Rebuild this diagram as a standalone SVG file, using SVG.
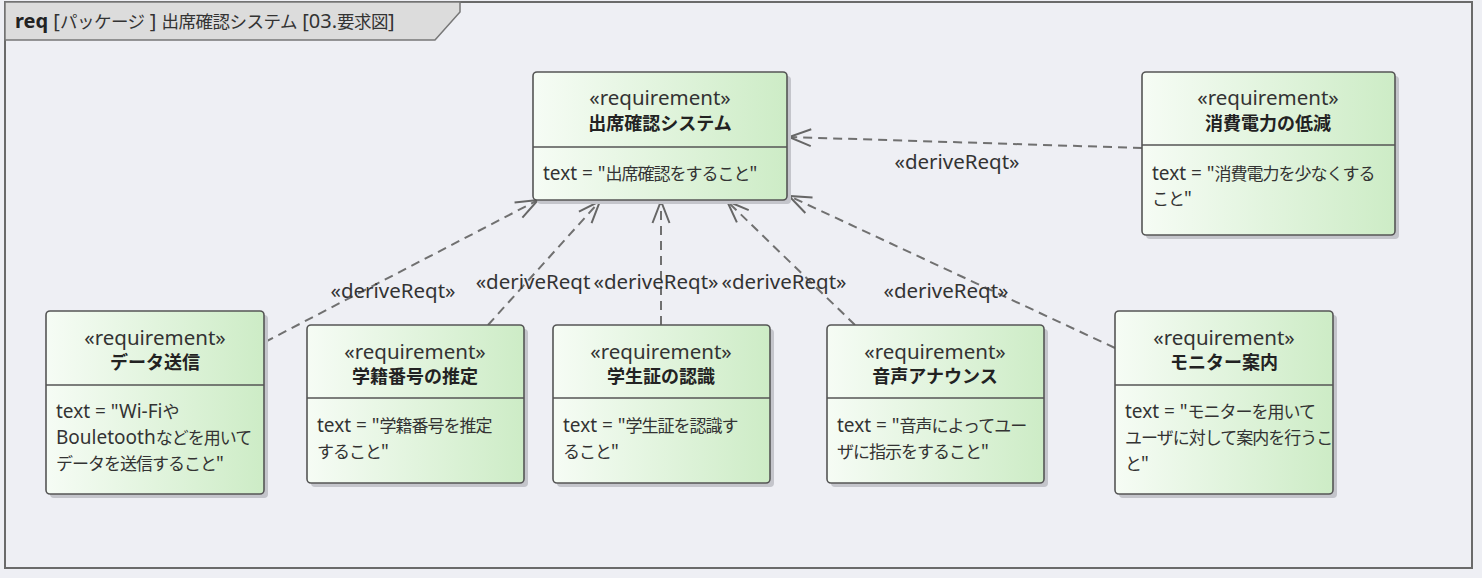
<svg xmlns="http://www.w3.org/2000/svg" width="1482" height="578" viewBox="0 0 1482 578">
<style>
text{font-family:"Noto Sans","Noto Sans CJK JP",sans-serif;fill:#333;font-size:20.5px;}
.t{font-size:19px;}
.j{font-size:17px;letter-spacing:-1px;}
.hj{font-size:17.5px;letter-spacing:-0.5px;}
.st{text-anchor:middle;}
.nm{font-size:18px;font-weight:bold;text-anchor:middle;fill:#222;}
.lb{text-anchor:middle;}
.box{fill:url(#g);stroke:#555;stroke-width:1.6;}
.sh{fill:#c4c5cb;}
.dv{stroke:#555;stroke-width:1.6;}
.cn{fill:none;stroke:#707070;stroke-width:2;stroke-dasharray:9,6;marker-end:url(#open);}
</style>
<defs>
<linearGradient id="g" x1="0" y1="0" x2="1" y2="0">
<stop offset="0" stop-color="#f6fcf5"/>
<stop offset="1" stop-color="#cdecc6"/>
</linearGradient>
<marker id="open" markerWidth="26" markerHeight="22" viewBox="-24 -11 26 22" refX="0" refY="0" orient="auto" markerUnits="userSpaceOnUse">
<path d="M-22,-8.5 L0,0 L-22,8.5" fill="none" stroke="#666" stroke-width="2"/>
</marker>
</defs>
<rect x="0" y="0" width="1482" height="578" fill="#eeeff4"/>
<g id="frame">
<rect x="5" y="2" width="1467" height="566" fill="#eeeff4" stroke="#6a6a6a" stroke-width="2"/>
<path d="M5,2 L460,2 L460,12 L435,40 L5,40 Z" fill="#dcdcdc" stroke="#777" stroke-width="1.5"/>
<text x="15" y="28" style="font-size:20px"><tspan font-weight="bold" fill="#222">req</tspan> [<tspan class="hj">パッケージ</tspan> ] <tspan class="hj">出席確認システム</tspan> [03.<tspan class="hj">要求図</tspan>]</text>
</g>
<g id="connectors">
<path class="cn" d="M265,342 L538,200"/>
<path class="cn" d="M488,325 L600,201"/>
<path class="cn" d="M661,325 L661,201"/>
<path class="cn" d="M855,325 L727,201"/>
<path class="cn" d="M1115,348 L789,196"/>
<path class="cn" d="M1142,148 L789,137"/>
<text class="lb" x="393" y="298">«deriveReqt»</text>
<text class="lb" x="533" y="289">«deriveReqt</text>
<text class="lb" x="656" y="289">«deriveReqt»</text>
<text class="lb" x="784" y="289">«deriveReqt»</text>
<text class="lb" x="946" y="298">«deriveReqt»</text>
<text class="lb" x="957" y="169">«deriveReqt»</text>
</g>
<g id="n-main">
<rect class="sh" x="537" y="76" width="254" height="128" rx="4"/>
<rect class="box" x="533" y="72" width="254" height="128" rx="4"/>
<line class="dv" x1="533" y1="147" x2="787" y2="147"/>
<text class="st" x="660" y="105">«requirement»</text>
<text class="nm" x="660" y="130">出席確認システム</text>
<text class="t" x="543" y="180">text = "<tspan class="j">出席確認をすること</tspan>"</text>
</g>
<g id="n-power">
<rect class="sh" x="1146" y="76" width="253" height="163" rx="4"/>
<rect class="box" x="1142" y="72" width="253" height="163" rx="4"/>
<line class="dv" x1="1142" y1="145" x2="1395" y2="145"/>
<text class="st" x="1268" y="105">«requirement»</text>
<text class="nm" x="1268" y="130">消費電力の低減</text>
<text class="t" x="1152" y="180">text = "<tspan class="j">消費電力を少なくする</tspan></text>
<text class="t" x="1152" y="205"><tspan class="j">こと</tspan>"</text>
</g>
<g id="n-data">
<rect class="sh" x="50" y="315" width="218" height="183" rx="4"/>
<rect class="box" x="46" y="311" width="218" height="183" rx="4"/>
<line class="dv" x1="46" y1="385" x2="264" y2="385"/>
<text class="st" x="155" y="345">«requirement»</text>
<text class="nm" x="155" y="369">データ送信</text>
<text class="t" x="56" y="418">text = "Wi-Fi<tspan class="j">や</tspan></text>
<text class="t" x="56" y="444">Bouletooth<tspan class="j">などを用いて</tspan></text>
<text class="t" x="56" y="470"><tspan class="j">データを送信すること</tspan>"</text>
</g>
<g id="n-id">
<rect class="sh" x="311" y="329" width="217" height="158" rx="4"/>
<rect class="box" x="307" y="325" width="217" height="158" rx="4"/>
<line class="dv" x1="307" y1="398" x2="524" y2="398"/>
<text class="st" x="415" y="359">«requirement»</text>
<text class="nm" x="415" y="383">学籍番号の推定</text>
<text class="t" x="317" y="432">text = "<tspan class="j">学籍番号を推定</tspan></text>
<text class="t" x="317" y="458"><tspan class="j">すること</tspan>"</text>
</g>
<g id="n-card">
<rect class="sh" x="557" y="329" width="217" height="158" rx="4"/>
<rect class="box" x="553" y="325" width="217" height="158" rx="4"/>
<line class="dv" x1="553" y1="398" x2="770" y2="398"/>
<text class="st" x="661" y="359">«requirement»</text>
<text class="nm" x="661" y="383">学生証の認識</text>
<text class="t" x="563" y="432">text = "<tspan class="j">学生証を認識す</tspan></text>
<text class="t" x="563" y="458"><tspan class="j">ること</tspan>"</text>
</g>
<g id="n-voice">
<rect class="sh" x="831" y="329" width="217" height="158" rx="4"/>
<rect class="box" x="827" y="325" width="217" height="158" rx="4"/>
<line class="dv" x1="827" y1="398" x2="1044" y2="398"/>
<text class="st" x="935" y="359">«requirement»</text>
<text class="nm" x="935" y="383">音声アナウンス</text>
<text class="t" x="837" y="432">text = "<tspan class="j">音声によってユー</tspan></text>
<text class="t" x="837" y="458"><tspan class="j">ザに指示をすること</tspan>"</text>
</g>
<g id="n-monitor">
<rect class="sh" x="1119" y="315" width="218" height="183" rx="4"/>
<rect class="box" x="1115" y="311" width="218" height="183" rx="4"/>
<line class="dv" x1="1115" y1="385" x2="1333" y2="385"/>
<text class="st" x="1224" y="345">«requirement»</text>
<text class="nm" x="1224" y="369">モニター案内</text>
<text class="t" x="1125" y="418">text = "<tspan class="j">モニターを用いて</tspan></text>
<text class="t" x="1125" y="444"><tspan class="j">ユーザに対して案内を行うこ</tspan></text>
<text class="t" x="1125" y="470"><tspan class="j">と</tspan>"</text>
</g>
</svg>
